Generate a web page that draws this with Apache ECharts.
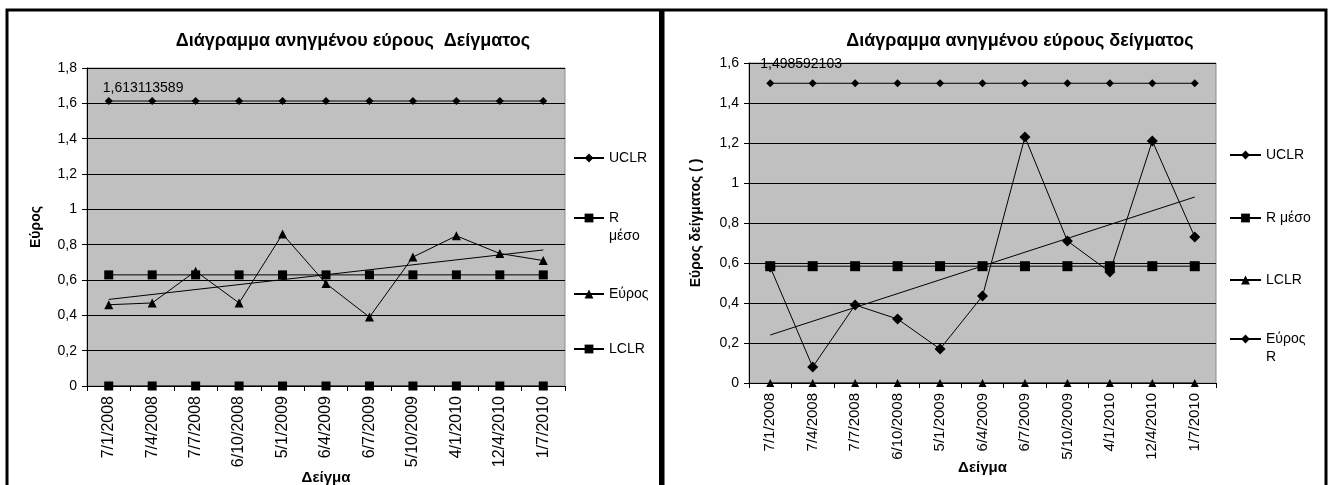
<!DOCTYPE html>
<html>
<head>
<meta charset="utf-8">
<script src="https://cdn.jsdelivr.net/npm/echarts@6/dist/echarts.min.js"></script>
<style>
html,body{margin:0;padding:0;background:#fff;width:1330px;height:485px;overflow:hidden;}
#c1{position:absolute;left:0;top:0;width:663px;height:485px;}
#c2{position:absolute;left:663px;top:0;width:667px;height:485px;}
</style>
</head>
<body>
<div id="c1"></div>
<div id="c2"></div>
<script>
// ---- data ----
const categories = ['7/1/2008','7/4/2008','7/7/2008','6/10/2008','5/1/2009','6/4/2009','6/7/2009','5/10/2009','4/1/2010','12/4/2010','1/7/2010'];

// left chart
const leftTitle = 'Διάγραμμα ανηγμένου εύρους  Δείγματος';
const leftUCLR = [1.613113589,1.613113589,1.613113589,1.613113589,1.613113589,1.613113589,1.613113589,1.613113589,1.613113589,1.613113589,1.613113589];
const leftRmean = [0.629,0.629,0.629,0.629,0.629,0.629,0.629,0.629,0.629,0.629,0.629];
const leftRange = [0.46,0.47,0.65,0.47,0.86,0.58,0.39,0.73,0.85,0.75,0.71];
const leftLCLR = [0,0,0,0,0,0,0,0,0,0,0];
const leftTrend = [0.49, 0.77];
const leftYTicks = {min:0, max:1.8, interval:0.2};

// right chart
const rightTitle = 'Διάγραμμα ανηγμένου εύρους δείγματος';
const rightUCLR = [1.498592103,1.498592103,1.498592103,1.498592103,1.498592103,1.498592103,1.498592103,1.498592103,1.498592103,1.498592103,1.498592103];
const rightRmean = [0.584,0.584,0.584,0.584,0.584,0.584,0.584,0.584,0.584,0.584,0.584];
const rightLCLR = [0,0,0,0,0,0,0,0,0,0,0];
const rightRange = [0.58,0.08,0.39,0.32,0.17,0.435,1.23,0.71,0.555,1.21,0.73];
const rightTrend = [0.24, 0.93];
const rightYTicks = {min:0, max:1.6, interval:0.2};

// ---- helpers ----
const FONT = '"Liberation Sans", Arial, sans-serif';
const fmtNum = v => String(+(+v).toFixed(1)).replace('.', ',');

function lineSeries(name, data, symbol, size, extra) {
  return Object.assign({
    name: name, type: 'line', data: data,
    symbol: symbol, symbolSize: size,
    itemStyle: {color: '#000'},
    lineStyle: {color: '#000', width: 1},
    emphasis: {disabled: true},
    animation: false, z: 3
  }, extra || {});
}

function firstLabelData(arr, offs) {
  return arr.map((v, i) => i === 0 ? {
    value: v,
    label: {show: true, position: 'top', align: 'left', offset: offs,
      formatter: p => String(p.value).replace('.', ','),
      color: '#000', fontSize: 14, fontFamily: FONT}
  } : v);
}

function legendItem(name, left, top, itemWidth, multi) {
  return {
    data: [name], left: left, top: top, orient: 'vertical',
    itemWidth: itemWidth, itemHeight: 11, itemGap: 0, padding: 0,
    selectedMode: false,
    textStyle: {color: '#000', fontSize: 14, fontFamily: FONT, lineHeight: 18},
    formatter: n => multi ? '\n' + n.replace(' ', '\n') : n
  };
}

function baseAxes(yt, grid, nameY, nameGapX, nameGapY, xLabelSize) {
  return {
    xAxis: {
      type: 'category', data: categories, boundaryGap: true,
      name: 'Δείγμα', nameLocation: 'middle', nameGap: nameGapX, nameMoveOverlap: false,
      nameTextStyle: {fontWeight: 'bold', fontSize: 15, color: '#000', fontFamily: FONT},
      axisLine: {lineStyle: {color: '#000', width: 1}},
      axisTick: {show: true, alignWithLabel: false, length: 5, lineStyle: {color: '#000'}},
      axisLabel: {rotate: 90, color: '#000', fontSize: xLabelSize, fontFamily: FONT, margin: 10, interval: 0},
      splitLine: {show: false}
    },
    yAxis: {
      type: 'value', min: yt.min, max: yt.max, interval: yt.interval,
      name: nameY, nameLocation: 'middle', nameGap: nameGapY, nameRotate: 90, nameMoveOverlap: false,
      nameTextStyle: {fontWeight: 'bold', fontSize: 14, color: '#000', fontFamily: FONT},
      axisLine: {show: true, lineStyle: {color: '#000', width: 1}},
      axisTick: {show: true, length: 5, lineStyle: {color: '#000'}},
      axisLabel: {color: '#000', fontSize: 14, fontFamily: FONT, margin: 10, formatter: fmtNum},
      splitLine: {show: true, lineStyle: {color: '#000', width: 1}}
    },
    grid: Object.assign({show: true, backgroundColor: '#c0c0c0', borderColor: '#8c8c8c', borderWidth: 1,
      containLabel: false, outerBoundsMode: 'none'}, grid)
  };
}

// ---- left chart ----
const c1 = echarts.init(document.getElementById('c1'), null, {renderer: 'canvas'});
const opt1 = Object.assign({
  animation: false,
  backgroundColor: '#fff',
  title: {text: leftTitle, left: 353, top: 32, textAlign: 'center', padding: 0,
    textStyle: {fontSize: 18, fontWeight: 'bold', color: '#000', fontFamily: FONT}},
  legend: [
    legendItem('UCLR', 573, 149, 30, false),
    legendItem('R μέσο', 573, 191, 30, true),
    legendItem('Εύρος', 573, 285, 30, false),
    legendItem('LCLR', 573, 340, 30, false)
  ],
  graphic: [
    {type: 'rect', shape: {x: 7, y: 10, width: 660, height: 490}, style: {fill: 'none', stroke: '#000', lineWidth: 3}, silent: true, z: 100},
    {type: 'rect', shape: {x: 659, y: 9, width: 8, height: 480}, style: {fill: '#000'}, silent: true, z: 100}
  ],
  series: [
    lineSeries('UCLR', firstLabelData(leftUCLR, [-6, 3]), 'diamond', 8),
    lineSeries('R μέσο', leftRmean, 'rect', 9),
    lineSeries('Εύρος', leftRange, 'triangle', 9),
    lineSeries('LCLR', leftLCLR, 'rect', 9, {clip: false}),
    lineSeries('trend', [[categories[0], leftTrend[0]], [categories[categories.length-1], leftTrend[1]]], 'none', 0)
  ]
}, baseAxes(leftYTicks, {left: 87, top: 68, width: 478, height: 318}, 'Εύρος', 84, 44, 16));
c1.setOption(opt1);

// ---- right chart ----
const c2 = echarts.init(document.getElementById('c2'), null, {renderer: 'canvas'});
const opt2 = Object.assign({
  animation: false,
  backgroundColor: '#fff',
  title: {text: rightTitle, left: 357, top: 32, textAlign: 'center', padding: 0,
    textStyle: {fontSize: 18, fontWeight: 'bold', color: '#000', fontFamily: FONT}},
  legend: [
    legendItem('UCLR', 566, 146, 31, false),
    legendItem('R μέσο', 566, 209, 31, false),
    legendItem('LCLR', 566, 271, 31, false),
    legendItem('Εύρος R', 566, 312, 31, true)
  ],
  graphic: [
    {type: 'rect', shape: {x: 0, y: 10, width: 663, height: 490}, style: {fill: 'none', stroke: '#000', lineWidth: 3}, silent: true, z: 100}
  ],
  series: [
    lineSeries('UCLR', firstLabelData(rightUCLR, [-10, -3]), 'diamond', 8),
    lineSeries('R μέσο', rightRmean, 'rect', 10),
    lineSeries('LCLR', rightLCLR, 'triangle', 8, {clip: false}),
    lineSeries('Εύρος R', rightRange, 'diamond', 11),
    lineSeries('trend', [[categories[0], rightTrend[0]], [categories[categories.length-1], rightTrend[1]]], 'none', 0)
  ]
}, baseAxes(rightYTicks, {left: 86, top: 63, width: 467, height: 320}, 'Εύρος δείγματος ( )', 77, 46, 15));
c2.setOption(opt2);
</script>
</body>
</html>
